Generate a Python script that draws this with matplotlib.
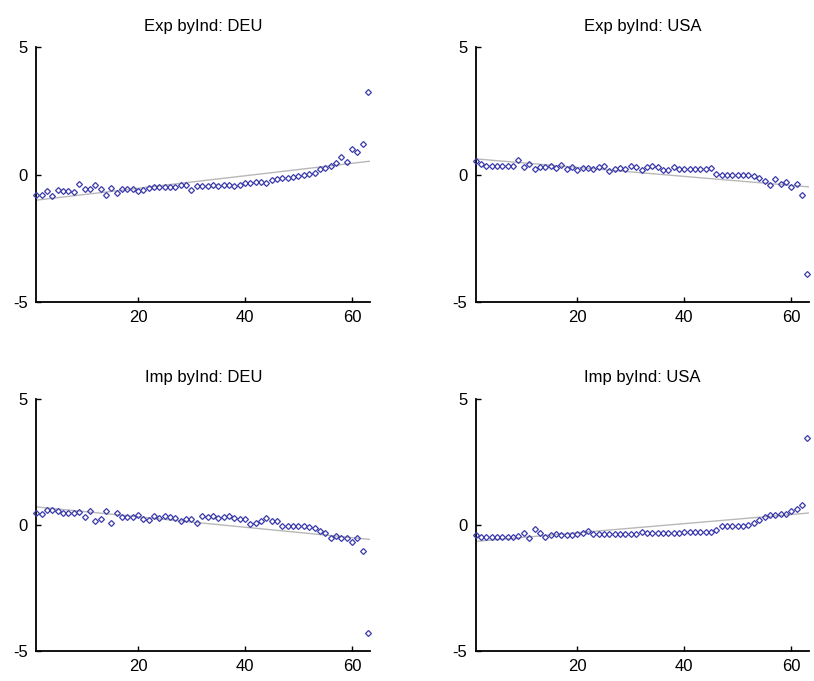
import numpy as np
import matplotlib
matplotlib.use('Agg')
import matplotlib.pyplot as plt

plt.rcParams['font.family'] = ['Liberation Sans', 'DejaVu Sans']
plt.rcParams['axes.unicode_minus'] = False

titles = ['Exp byInd: DEU', 'Exp byInd: USA', 'Imp byInd: DEU', 'Imp byInd: USA']

exp_deu = [-0.78, -0.78, -0.65, -0.83, -0.59, -0.65, -0.65, -0.68, -0.35, -0.57,
	-0.57, -0.42, -0.57, -0.78, -0.52, -0.71, -0.57, -0.57, -0.57, -0.65,
	-0.61, -0.52, -0.50, -0.50, -0.50, -0.50, -0.48, -0.42, -0.40, -0.61,
	-0.46, -0.45, -0.44, -0.42, -0.44, -0.40, -0.42, -0.44, -0.40, -0.33,
	-0.31, -0.30, -0.30, -0.32, -0.20, -0.17, -0.14, -0.13, -0.10, -0.05,
	0.00, 0.03, 0.05, 0.21, 0.26, 0.36, 0.47, 0.69, 0.50, 1.00,
	0.88, 1.22, 3.25]
exp_usa = [0.52, 0.43, 0.36, 0.36, 0.33, 0.36, 0.33, 0.36, 0.56, 0.30,
	0.43, 0.21, 0.32, 0.30, 0.33, 0.28, 0.39, 0.21, 0.30, 0.17,
	0.28, 0.28, 0.23, 0.32, 0.36, 0.13, 0.23, 0.26, 0.23, 0.36,
	0.30, 0.17, 0.30, 0.36, 0.30, 0.17, 0.17, 0.32, 0.23, 0.23,
	0.22, 0.23, 0.21, 0.23, 0.28, 0.02, 0.00, 0.00, 0.00, -0.02,
	-0.03, -0.03, -0.05, -0.13, -0.26, -0.41, -0.18, -0.35, -0.28, -0.50,
	-0.35, -0.78, -3.90]
imp_deu = [0.48, 0.44, 0.61, 0.61, 0.57, 0.48, 0.48, 0.48, 0.52, 0.31,
	0.55, 0.17, 0.25, 0.55, 0.08, 0.48, 0.31, 0.31, 0.31, 0.39,
	0.24, 0.21, 0.35, 0.28, 0.35, 0.31, 0.28, 0.17, 0.25, 0.24,
	0.08, 0.35, 0.31, 0.35, 0.28, 0.31, 0.35, 0.28, 0.25, 0.25,
	0.04, 0.08, 0.15, 0.28, 0.15, 0.15, -0.05, -0.05, -0.05, -0.05,
	-0.05, -0.09, -0.12, -0.22, -0.32, -0.52, -0.45, -0.52, -0.52, -0.68,
	-0.52, -1.03, -4.30]
imp_usa = [-0.41, -0.48, -0.48, -0.48, -0.48, -0.48, -0.48, -0.48, -0.45, -0.32,
	-0.52, -0.16, -0.32, -0.49, -0.41, -0.36, -0.41, -0.41, -0.41, -0.36,
	-0.32, -0.23, -0.36, -0.35, -0.36, -0.35, -0.36, -0.35, -0.36, -0.35,
	-0.36, -0.28, -0.32, -0.32, -0.31, -0.31, -0.30, -0.30, -0.30, -0.29,
	-0.29, -0.28, -0.28, -0.28, -0.28, -0.19, -0.05, -0.05, -0.05, -0.05,
	-0.05, 0.01, 0.08, 0.20, 0.31, 0.39, 0.41, 0.42, 0.44, 0.55,
	0.64, 0.78, 3.45]

# end points of the grey reference line in each panel
fit_x = [1, 63.4]
exp_deu_fit = [-1.0, 0.53]
exp_usa_fit = [0.62, -0.48]
imp_deu_fit = [0.72, -0.57]
imp_usa_fit = [-0.65, 0.48]

series = [exp_deu, exp_usa, imp_deu, imp_usa]
fits = [exp_deu_fit, exp_usa_fit, imp_deu_fit, imp_usa_fit]
positions = [[0.0447, 0.5565, 0.41, 0.374], [0.5844, 0.5565, 0.41, 0.374],
	[0.0447, 0.044, 0.41, 0.370], [0.5844, 0.044, 0.41, 0.370]]

fig = plt.figure(figsize=(8.14, 6.81), dpi=100)
for title, y, fit, pos in zip(titles, series, fits, positions):
	ax = fig.add_axes(pos)
	x = np.arange(1, len(y) + 1)
	ax.plot(fit_x, fit, color='#b8b8b8', lw=1.0)
	ax.plot(x, y, ls='none', marker='D', ms=3.0, mfc='none', mec='#3a3aad',
		mew=0.9, clip_on=False, zorder=3)
	ax.set_xlim(1, 63.4)
	ax.set_ylim(-5, 5)
	ax.set_xticks([20, 40, 60])
	ax.set_yticks([-5, 0, 5])
	ax.spines['top'].set_visible(False)
	ax.spines['right'].set_visible(False)
	ax.spines['left'].set_linewidth(1.3)
	ax.spines['bottom'].set_linewidth(1.3)
	ax.tick_params(direction='in', length=3.5, width=1.0, labelsize=12, pad=6)
	ax.set_title(title, fontsize=12, pad=12)

fig.savefig('out.png', dpi=100)
